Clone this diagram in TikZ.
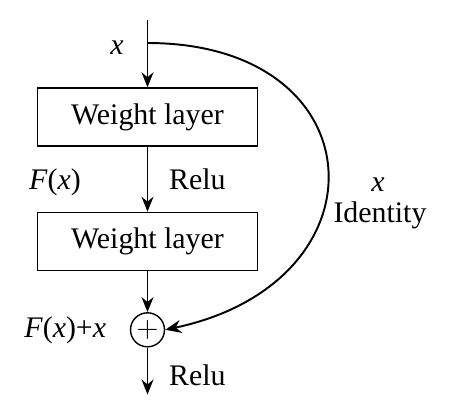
\documentclass[tikz,border=0pt]{standalone}
\usepackage{fontspec}
\setmainfont{Liberation Serif}
\usetikzlibrary{positioning,arrows.meta}

\begin{document}
\begin{tikzpicture}[
	font=\fontsize{17}{20}\selectfont,
	layerbox/.style={draw,line width=0.8pt,minimum width=4.4cm,minimum height=1.16cm,inner sep=0pt},
	sumnode/.style={draw,circle,line width=0.8pt,minimum size=0.68cm,inner sep=0pt},
	flow/.style={line width=0.9pt,-{Stealth[length=0.3cm,width=0.24cm]}}]
\useasboundingbox (0,0) rectangle (9,8.3);
\coordinate (in) at (2.95,7.9);
\coordinate (split) at (2.95,7.44);
\node[layerbox] (w1) at (2.95,5.96) {Weight layer};
\node[layerbox,below=1.3cm of w1] (w2) {Weight layer};
\node[sumnode,below=0.82cm of w2] (sum) {$+$};
\coordinate[below=0.94cm of sum] (out);
% main path
\draw[line width=0.9pt] (in) -- (split);
\draw[flow] (split) -- (w1);
\draw[flow] (w1) -- node[right=0.3cm] {Relu} (w2);
\draw[flow] (w2) -- (sum);
\draw[flow] (sum) -- node[right=0.3cm,pos=.6] {Relu} (out);
% shortcut
\draw[line width=1.1pt,-{Stealth[length=0.32cm,width=0.26cm]}]
	(split) to[out=0,in=12,looseness=2.05] (sum.east);
% labels
\node at (2.34,7.34) {\textit{x}};
\node at (1.1,4.66) {\textit{F}(\textit{x})};
\node[left=0.35cm of sum] {\textit{F}(\textit{x})+\textit{x}};
\node at (7.56,4.6) {\textit{x}};
\node at (7.6,4.0) {Identity};
\end{tikzpicture}
\end{document}
